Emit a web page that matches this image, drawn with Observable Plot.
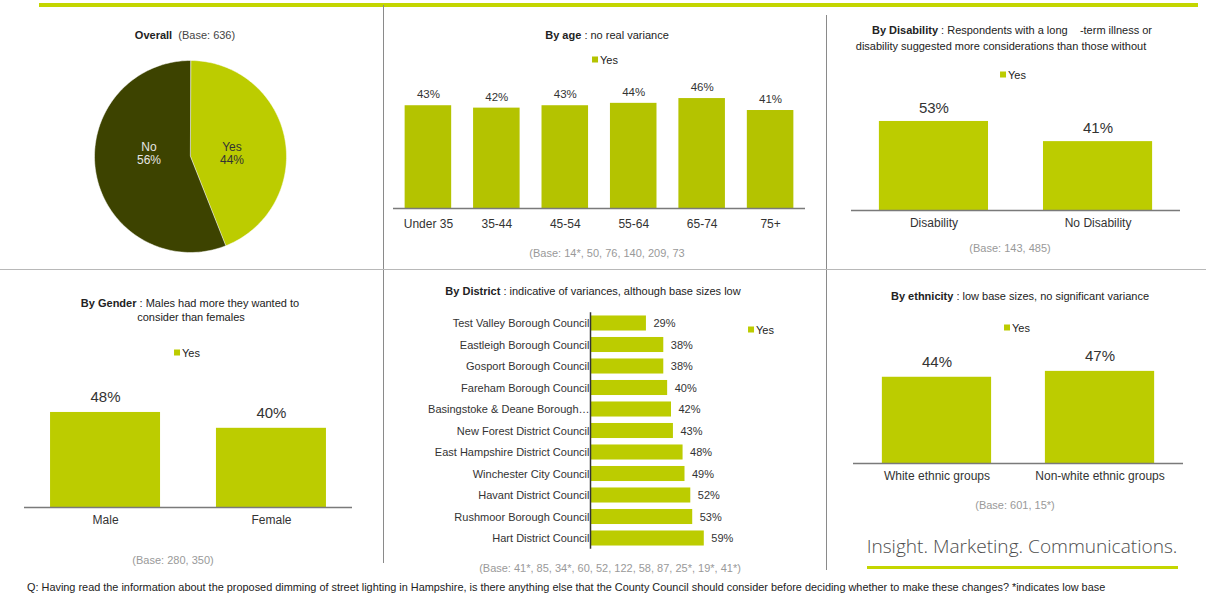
<!DOCTYPE html>
<html><head><meta charset="utf-8">
<script src="https://cdn.jsdelivr.net/npm/d3@7"></script>
<script src="https://cdn.jsdelivr.net/npm/@observablehq/plot@0.6"></script>
<style>
body{margin:0;background:#fff;font-family:"Liberation Sans",Arial,sans-serif;}
#page{position:relative;width:1206px;height:595px;overflow:hidden;background:#fff;}
.t{position:absolute;transform:translate(-50%,-50%);white-space:nowrap;line-height:1;font-size:11px;color:#222;}
.ln{position:absolute;}
.sq{display:inline-block;width:6px;height:6px;margin-right:2px;vertical-align:1px;}
</style></head>
<body><div id="page"></div>
<script>
// ---------- data ----------
const overallLabels = ["Yes", "No"];
const overallValues = [44, 56];
const ageCategories = ["Under 35", "35-44", "45-54", "55-64", "65-74", "75+"];
const ageValues = [43, 42, 43, 44, 46, 41];
const disabilityCategories = ["Disability", "No Disability"];
const disabilityValues = [53, 41];
const genderCategories = ["Male", "Female"];
const genderValues = [48, 40];
const districtCategories = ["Test Valley Borough Council", "Eastleigh Borough Council", "Gosport Borough Council",
  "Fareham Borough Council", "Basingstoke & Deane Borough…", "New Forest District Council",
  "East Hampshire District Council", "Winchester City Council", "Havant District Council",
  "Rushmoor Borough Council", "Hart District Council"];
const districtValues = [29, 38, 38, 40, 42, 43, 48, 49, 52, 53, 59];
const ethnicityCategories = ["White ethnic groups", "Non-white ethnic groups"];
const ethnicityValues = [44, 47];

const titleOverall = ["Overall", "(Base: 636)"];
const titleAge = ["By age", " : no real variance"];
const titleDisability = ["By Disability", " : Respondents with a long    -term illness or", "disability suggested more considerations than those without"];
const titleGender = ["By Gender", " : Males had more they wanted to", "consider than females"];
const titleDistrict = ["By District", " : indicative of variances, although base sizes low"];
const titleEthnicity = ["By ethnicity", " : low base sizes, no significant variance"];
const baseAge = "(Base: 14*, 50, 76, 140, 209, 73";
const baseDisability = "(Base: 143, 485)";
const baseGender = "(Base: 280, 350)";
const baseDistrict = "(Base: 41*, 85, 34*, 60, 52, 122, 58, 87, 25*, 19*, 41*)";
const baseEthnicity = "(Base: 601, 15*)";
const seriesName = "Yes";
const logoText = "Insight. Marketing. Communications.";
const footerText = "Q: Having read the information about the proposed dimming of street lighting in Hampshire, is there anything else that the County Council should consider before deciding whether to make these changes? *indicates low base";

// ---------- styles ----------
const GREEN = "#bccc00";
const GREEN_AGE = "#b4c300";
const DARK = "#3d4300";
const FONT = "'Liberation Sans', Arial, sans-serif";
const page = document.getElementById("page");

function txt(html, cx, cy, style = {}) {
  const d = document.createElement("div");
  d.className = "t"; d.innerHTML = html;
  d.style.left = cx + "px"; d.style.top = cy + "px";
  Object.assign(d.style, style);
  page.appendChild(d);
  return d;
}
function line(x, y, w, h, color) {
  const d = document.createElement("div");
  d.className = "ln";
  Object.assign(d.style, {left: x + "px", top: y + "px", width: w + "px", height: h + "px", background: color});
  page.appendChild(d);
}
function place(svg, left, top) {
  svg.style.position = "absolute";
  svg.style.left = left + "px";
  svg.style.top = top + "px";
  page.appendChild(svg);
}
function fit(el, target, family, weight) {
  const c = document.createElement("canvas").getContext("2d");
  c.font = `${weight} 10px ${family}`;
  const w = c.measureText(el.textContent).width;
  el.style.fontSize = (10 * target / w) + "px";
}
const legendHtml = (color) => `<span class="sq" style="background:${color}"></span>${seriesName}`;

// ---------- frame lines ----------
line(39, 3, 1159, 3.5, "#c4d600");
line(382.5, 5, 1, 264, "#8a8a8a");
line(826, 15, 1, 254, "#8a8a8a");
line(0, 268.5, 1206, 1.2, "#b8b8b8");
line(382.5, 270, 1, 293, "#8a8a8a");
line(826, 270, 1, 300, "#8a8a8a");

// ---------- bar chart helper ----------
function barChart({cats, vals, width, height, ml, mr, mt, mb, ymax, color, valueSize, valueDy, catPad, pi, po}) {
  const data = cats.map((c, i) => ({c, v: vals[i]}));
  return Plot.plot({
    width, height, marginLeft: ml, marginRight: mr, marginTop: mt, marginBottom: mb,
    style: {fontFamily: FONT, fontSize: "12px", color: "#333", background: "transparent", overflow: "visible"},
    x: {domain: cats, paddingInner: pi, paddingOuter: po, round: false, label: null, tickSize: 0, tickPadding: catPad},
    y: {domain: [0, ymax], axis: null},
    marks: [
      Plot.barY(data, {x: "c", y: "v", fill: color}),
      Plot.ruleY([0], {stroke: "#7a7a7a", strokeWidth: 1.5}),
      Plot.text(data, {x: "c", y: "v", text: d => d.v + "%", dy: valueDy, fontSize: valueSize, fill: "#333"})
    ]
  });
}

// ---------- Panel 1: Overall pie ----------
txt(`<b>${titleOverall[0]}</b>&nbsp;&nbsp;<span style="color:#444">${titleOverall[1]}</span>`, 185, 35);
{
  const arcs = d3.pie().sort(null).value(d => d)(overallValues);
  const pts = [];
  arcs.forEach((a, i) => {
    const name = overallLabels[i];
    pts.push({s: name, x: 0, y: 0});
    const n = 120;
    for (let k = 0; k <= n; k++) {
      const t = a.startAngle + (a.endAngle - a.startAngle) * k / n;
      pts.push({s: name, x: Math.sin(t), y: Math.cos(t)});
    }
  });
  const labels = arcs.map((a, i) => {
    const m = (a.startAngle + a.endAngle) / 2;
    return {s: overallLabels[i], x: 0.44 * Math.sin(m), y: 0.03, text: overallLabels[i] + "\n" + overallValues[i] + "%"};
  });
  const pie = Plot.plot({
    width: 200, height: 200, marginLeft: 4, marginRight: 4, marginTop: 4, marginBottom: 4,
    style: {fontFamily: FONT, fontSize: "12px", background: "transparent", overflow: "visible"},
    x: {domain: [-1, 1], axis: null},
    y: {domain: [-1, 1], axis: null},
    color: {domain: overallLabels, range: [GREEN, DARK]},
    marks: [
      Plot.line(pts, {x: "x", y: "y", z: "s", fill: "s", stroke: "#fff", strokeWidth: 0.5, curve: "linear-closed"}),
      Plot.text(labels, {x: "x", y: "y", text: "text", fill: d => d.s === "Yes" ? "#333" : "#e6e6e6", fontSize: 12, lineHeight: 1.1})
    ]
  });
  place(pie, 90, 56);
}

// ---------- Panel 2: By age ----------
txt(`<b>${titleAge[0]}</b>${titleAge[1]}`, 607, 35);
txt(legendHtml(GREEN_AGE), 605, 60);
place(barChart({cats: ageCategories, vals: ageValues, width: 430, height: 160, ml: 10, mr: 8, mt: 18.5, mb: 22,
  ymax: 50, color: GREEN_AGE, valueSize: 11.5, valueDy: -11, catPad: 11, pi: 0.32, po: 0.17}), 383, 70);
txt(baseAge, 607, 253, {color: "#999"});

// ---------- Panel 3: By Disability ----------
txt(`<b>${titleDisability[0]}</b>${titleDisability[1].replace(/ {2,}/g, m => "&nbsp;".repeat(m.length))}`, 1012, 30);
txt(titleDisability[2], 1001, 46);
txt(legendHtml(GREEN), 1013, 75);
place(barChart({cats: disabilityCategories, vals: disabilityValues, width: 380, height: 150, ml: 25, mr: 26, mt: 19.2, mb: 30,
  ymax: 60, color: GREEN, valueSize: 15, valueDy: -13, catPad: 8, pi: 0.335, po: 0.17}), 826, 90);
txt(baseDisability, 1010, 248, {color: "#999"});

// ---------- Panel 4: By Gender ----------
txt(`<b>${titleGender[0]}</b>${titleGender[1]}`, 190, 303);
txt(titleGender[2], 191, 317);
txt(legendHtml(GREEN), 187, 353);
place(barChart({cats: genderCategories, vals: genderValues, width: 383, height: 150, ml: 24, mr: 31, mt: 8.2, mb: 23,
  ymax: 60, color: GREEN, valueSize: 15, valueDy: -15, catPad: 8, pi: 0.337, po: 0.157}), 0, 380);
txt(baseGender, 173, 560, {color: "#999"});

// ---------- Panel 5: By District ----------
txt(`<b>${titleDistrict[0]}</b>${titleDistrict[1]}`, 593, 291);
txt(legendHtml(GREEN), 761, 330);
{
  const data = districtCategories.map((c, i) => ({c, v: districtValues[i]}));
  const chart = Plot.plot({
    width: 443, height: 250, marginLeft: 207, marginRight: 101, marginTop: 7.25, marginBottom: 6.25,
    style: {fontFamily: FONT, fontSize: "11px", color: "#333", background: "transparent", overflow: "visible"},
    x: {domain: [0, 70], axis: null},
    y: {domain: districtCategories, paddingInner: 0.3, paddingOuter: 0.15, round: false, tickSize: 0, tickPadding: 1, label: null},
    marks: [
      Plot.barX(data, {y: "c", x: "v", fill: GREEN}),
      Plot.ruleX([0], {stroke: "#333", strokeWidth: 1.5}),
      Plot.text(data, {y: "c", x: "v", text: d => d.v + "%", dx: 7, textAnchor: "start", fontSize: 11, fill: "#333"})
    ]
  });
  place(chart, 383, 305);
}
txt(baseDistrict, 610, 568, {color: "#999"});

// ---------- Panel 6: By ethnicity ----------
txt(`<b>${titleEthnicity[0]}</b>${titleEthnicity[1]}`, 1020, 296);
txt(legendHtml(GREEN), 1017, 328);
place(barChart({cats: ethnicityCategories, vals: ethnicityValues, width: 380, height: 140, ml: 27, mr: 23, mt: 5.2, mb: 27,
  ymax: 55, color: GREEN, valueSize: 15, valueDy: -15, catPad: 8, pi: 0.33, po: 0.177}), 826, 350);
txt(baseEthnicity, 1015, 505, {color: "#999"});

// ---------- logo & footer ----------
const logo = txt(logoText, 1022, 547, {color: "#4d4d4d", fontFamily: "'Open Sans', 'DejaVu Sans', sans-serif", fontWeight: "300"});
fit(logo, 311, "'Open Sans'", 300);
line(867, 566, 311, 2.5, "#c4d600");
const foot = txt(footerText, 0, 587, {color: "#222", transform: "translateY(-50%)", left: "27px"});
fit(foot, 1080, "'Liberation Sans'", 400);
</script>
</body></html>
